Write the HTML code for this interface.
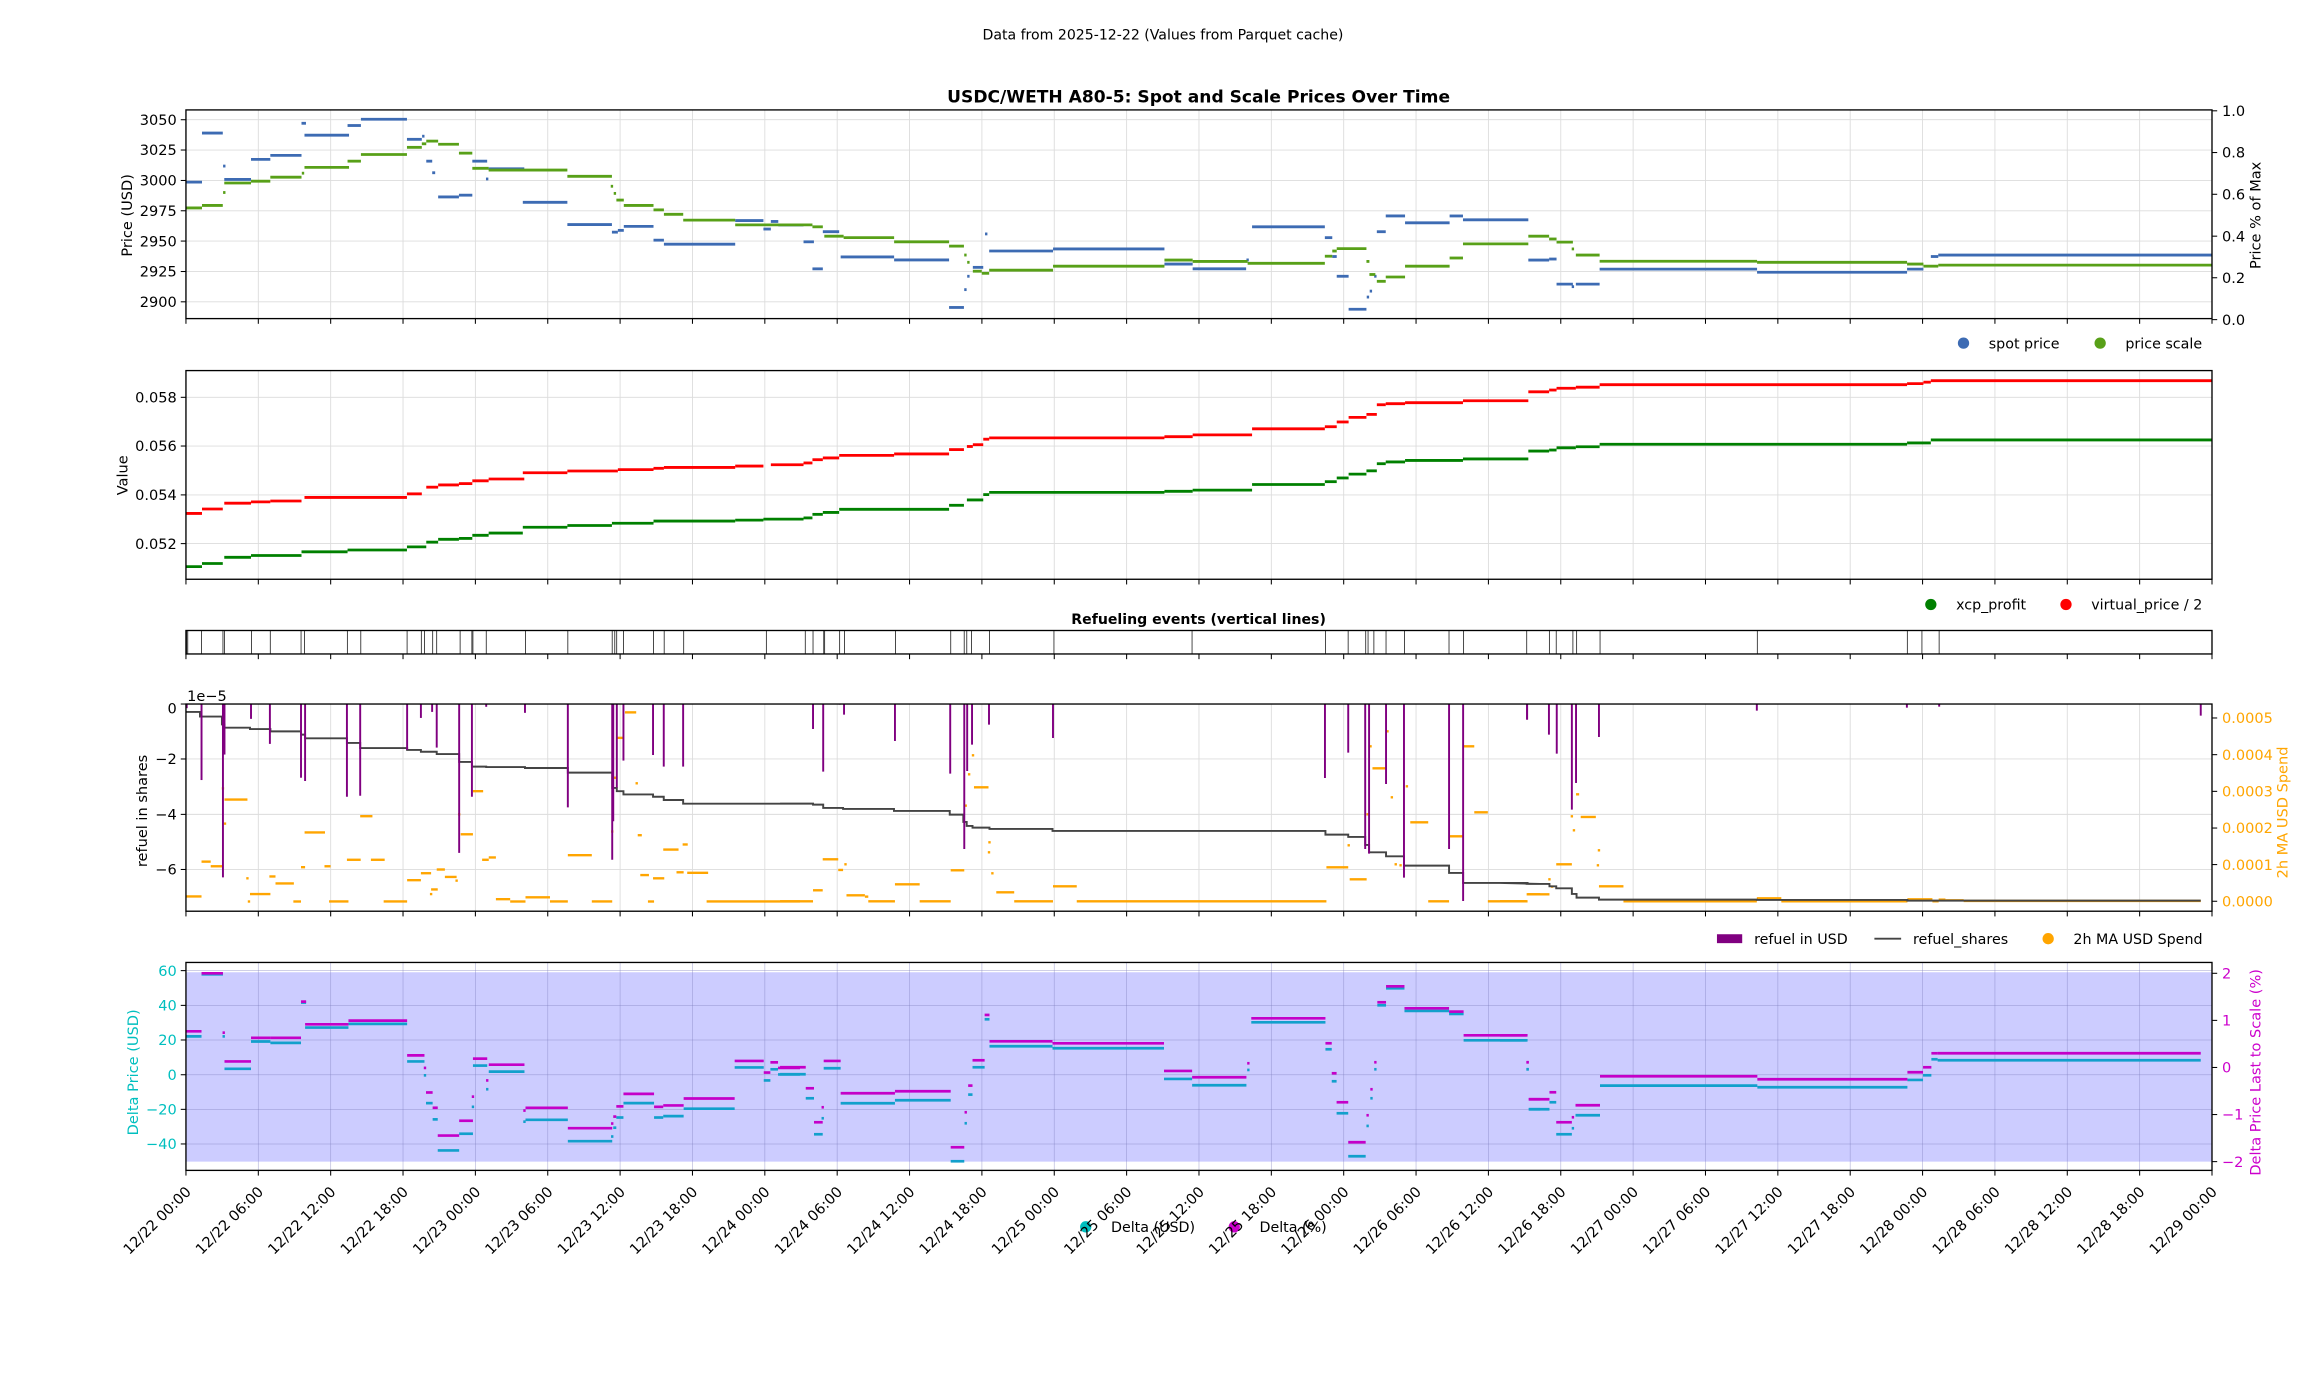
<!DOCTYPE html>
<html><head><meta charset="utf-8"><style>
html,body{margin:0;padding:0;background:#fff;}
svg{display:block;font-family:"DejaVu Sans","Liberation Sans",sans-serif;}
</style></head><body>
<svg id="s" width="2317" height="1377" viewBox="0 0 1560 927.1" xmlns="http://www.w3.org/2000/svg">
<rect x="0" y="0" width="1560" height="927.1" fill="#fff"/>
<rect x="125.2" y="654.6" width="1364.1" height="127.5" fill="#ccccff"/>
<g id="grid"></g>
<g id="data"></g>
<g id="frames" fill="none" stroke="#000" stroke-width="0.9">
<rect x="125.2" y="74" width="1364.1" height="140.5"/>
<rect x="125.2" y="249.5" width="1364.1" height="140.5"/>
<rect x="125.2" y="424.5" width="1364.1" height="15.8"/>
<rect x="125.2" y="474" width="1364.1" height="139.5"/>
<rect x="125.2" y="648" width="1364.1" height="140"/>
</g>
<g id="ticks" stroke="#000" stroke-width="0.7"></g>
<g font-size="10" fill="#000">
<text x="783" y="26.5" text-anchor="middle" font-size="9.5">Data from 2025-12-22 (Values from Parquet cache)</text>
<text x="807" y="69" text-anchor="middle" font-size="11.5" font-weight="bold">USDC/WETH A80-5: Spot and Scale Prices Over Time</text>
<text x="807" y="420" text-anchor="middle" font-size="9.5" font-weight="bold">Refueling events (vertical lines)</text>
<g text-anchor="end" font-size="9.8">
<text x="119" y="84">3050</text><text x="119" y="104.5">3025</text><text x="119" y="125">3000</text><text x="119" y="145.4">2975</text><text x="119" y="165.8">2950</text><text x="119" y="186.3">2925</text><text x="119" y="206.7">2900</text>
<text x="119" y="271">0.058</text><text x="119" y="303.8">0.056</text><text x="119" y="336.7">0.054</text><text x="119" y="369.5">0.052</text>
<text x="119" y="480.5">0</text><text x="119" y="514.5">−2</text><text x="119" y="551.8">−4</text><text x="119" y="588.9">−6</text>
<g fill="#00bfbf"><text x="119" y="657">60</text><text x="119" y="680.4">40</text><text x="119" y="703.7">20</text><text x="119" y="727.1">0</text><text x="119" y="750.4">−20</text><text x="119" y="773.7">−40</text></g>
</g>
<text x="126" y="472" font-size="9.8">1e−5</text>
<g font-size="9.8">
<text x="1496" y="78.1">1.0</text><text x="1496" y="106.2">0.8</text><text x="1496" y="134.3">0.6</text><text x="1496" y="162.5">0.4</text><text x="1496" y="190.5">0.2</text><text x="1496" y="218.7">0.0</text>
<g fill="#ffa500"><text x="1496" y="486.9">0.0005</text><text x="1496" y="511.6">0.0004</text><text x="1496" y="536.3">0.0003</text><text x="1496" y="561">0.0002</text><text x="1496" y="585.6">0.0001</text><text x="1496" y="610.3">0.0000</text></g>
<g fill="#cc00cc"><text x="1496" y="658.8">2</text><text x="1496" y="690.5">1</text><text x="1496" y="722.2">0</text><text x="1496" y="753.9">−1</text><text x="1496" y="785.6">−2</text></g>
</g>
<g font-size="9.8" text-anchor="middle">
<text transform="translate(89,145) rotate(-90)">Price (USD)</text>
<text transform="translate(86,320) rotate(-90)">Value</text>
<text transform="translate(99,546) rotate(-90)">refuel in shares</text>
<text transform="translate(93,722) rotate(-90)" fill="#00bfbf">Delta Price (USD)</text>
<text transform="translate(1522,145) rotate(-90)">Price % of Max</text>
<text transform="translate(1540,547) rotate(-90)" fill="#ffa500">2h MA USD Spend</text>
<text transform="translate(1522,722) rotate(-90)" fill="#cc00cc">Delta Price Last to Scale (%)</text>
</g>
<g font-size="9.6">
<circle cx="1322" cy="231" r="3.8" fill="#3d6bb3"/><text x="1339" y="234.5">spot price</text>
<circle cx="1414" cy="231" r="3.8" fill="#58a018"/><text x="1431" y="234.5">price scale</text>
<circle cx="1300" cy="407" r="3.8" fill="#008000"/><text x="1317" y="410.5">xcp_profit</text>
<circle cx="1391" cy="407" r="3.8" fill="#ff0000"/><text x="1408" y="410.5">virtual_price / 2</text>
<rect x="1156" y="629" width="17" height="6" fill="#800080"/><text x="1181" y="635.5">refuel in USD</text>
<line x1="1262" y1="632" x2="1280" y2="632" stroke="#444" stroke-width="1.3"/><text x="1288" y="635.5">refuel_shares</text>
<circle cx="1379" cy="632" r="3.8" fill="#ffa500"/><text x="1396" y="635.5">2h MA USD Spend</text>
<circle cx="731" cy="826" r="3.8" fill="#00bfbf"/><text x="748" y="829.5">Delta (USD)</text>
<circle cx="831" cy="826" r="3.8" fill="#cc00cc"/><text x="848" y="829.5">Delta (%)</text>
</g>
<g font-size="9.8" text-anchor="end">
<text transform="translate(129.2,803) rotate(-45)">12/22 00:00</text>
<text transform="translate(177.9,803) rotate(-45)">12/22 06:00</text>
<text transform="translate(226.6,803) rotate(-45)">12/22 12:00</text>
<text transform="translate(275.4,803) rotate(-45)">12/22 18:00</text>
<text transform="translate(324.1,803) rotate(-45)">12/23 00:00</text>
<text transform="translate(372.8,803) rotate(-45)">12/23 06:00</text>
<text transform="translate(421.5,803) rotate(-45)">12/23 12:00</text>
<text transform="translate(470.2,803) rotate(-45)">12/23 18:00</text>
<text transform="translate(518.9,803) rotate(-45)">12/24 00:00</text>
<text transform="translate(567.7,803) rotate(-45)">12/24 06:00</text>
<text transform="translate(616.4,803) rotate(-45)">12/24 12:00</text>
<text transform="translate(665.1,803) rotate(-45)">12/24 18:00</text>
<text transform="translate(713.8,803) rotate(-45)">12/25 00:00</text>
<text transform="translate(762.5,803) rotate(-45)">12/25 06:00</text>
<text transform="translate(811.3,803) rotate(-45)">12/25 12:00</text>
<text transform="translate(860,803) rotate(-45)">12/25 18:00</text>
<text transform="translate(908.7,803) rotate(-45)">12/26 00:00</text>
<text transform="translate(957.4,803) rotate(-45)">12/26 06:00</text>
<text transform="translate(1006.1,803) rotate(-45)">12/26 12:00</text>
<text transform="translate(1054.8,803) rotate(-45)">12/26 18:00</text>
<text transform="translate(1103.6,803) rotate(-45)">12/27 00:00</text>
<text transform="translate(1152.3,803) rotate(-45)">12/27 06:00</text>
<text transform="translate(1201,803) rotate(-45)">12/27 12:00</text>
<text transform="translate(1249.7,803) rotate(-45)">12/27 18:00</text>
<text transform="translate(1298.4,803) rotate(-45)">12/28 00:00</text>
<text transform="translate(1347.2,803) rotate(-45)">12/28 06:00</text>
<text transform="translate(1395.9,803) rotate(-45)">12/28 12:00</text>
<text transform="translate(1444.6,803) rotate(-45)">12/28 18:00</text>
<text transform="translate(1493.3,803) rotate(-45)">12/29 00:00</text>
</g>
</g>
</svg>
<script>
(function(){
var NS="http://www.w3.org/2000/svg";
var grid=document.getElementById("grid"),data=document.getElementById("data"),ticks=document.getElementById("ticks");
function L(g,x1,y1,x2,y2,c,w,op){var e=document.createElementNS(NS,"line");e.setAttribute("x1",x1);e.setAttribute("y1",y1);e.setAttribute("x2",x2);e.setAttribute("y2",y2);if(c)e.setAttribute("stroke",c);if(w)e.setAttribute("stroke-width",w);if(op)e.setAttribute("stroke-opacity",op);g.appendChild(e);}
var X0=125.2,X1=1489.3;
var panels=[[74,214.5,1],[249.5,390,1],[424.5,440.3,0],[474,613.5,1],[648,788,2]];
for(var i=0;i<=28;i++){var x=X0+i*48.718;
 panels.forEach(function(p){ if(p[2]==1&&i>0&&i<28)L(grid,x,p[0],x,p[1],"#dcdcdc",0.6); if(p[2]==2&&i>0&&i<28)L(grid,x,p[0],x,p[1],"#8080c0",0.5,0.5); L(ticks,x,p[1],x,p[1]+3.5);});}
[80.6,101,121.5,141.9,162.3,182.8,203.2].forEach(function(y){L(grid,X0,y,X1,y,"#dcdcdc",0.6);L(ticks,X0-3.5,y,X0,y);});
[267.5,300.3,333.2,366].forEach(function(y){L(grid,X0,y,X1,y,"#dcdcdc",0.6);L(ticks,X0-3.5,y,X0,y);});
[474,511,548.3,585.4].forEach(function(y){L(grid,X0,y,X1,y,"#dcdcdc",0.6);L(ticks,X0-3.5,y,X0,y);});
[653.5,676.9,700.2,723.6,746.9,770.2].forEach(function(y){L(grid,X0,y,X1,y,"#8080c0",0.5,0.5);L(ticks,X0-3.5,y,X0,y);});
[74.6,102.7,130.8,159,187,215.2].forEach(function(y){L(ticks,X1,y,X1+3.5,y);});
[483.4,508.1,532.8,557.5,582.1,606.8].forEach(function(y){L(ticks,X1,y,X1+3.5,y);});
[655.3,687,718.7,750.4,782.1].forEach(function(y){L(ticks,X1,y,X1+3.5,y);});
function segs(list,fx,fy,c,w){list.forEach(function(s){var a=fx(s[0]),b=fx(s[1]);if(b-a<1.4){var m=(a+b)/2;a=m-0.8;b=m+0.8;}var y=fy(s[2]);L(data,a,y,b,y,c,w);});}
var I=function(v){return v;};
var Z1x=function(z){return z*0.3435;};
var Z2y=function(z){return 437.8+z*0.3121;};
var Z5x=function(z){return 525.2+z*0.3264;};
var Z6x=function(z){return 1009.9+z*0.3508;};
var Z5y=function(z){return 464.55+z*0.2244;};
// Panel 1
segs([[125,136,122.6],[136,150,89.6],[151,151,111.8],[151,169,120.8],[169,182,107.3],[182,203,104.6],[203,206,83],[205,235,91],[234,243,84.5],[243,274,80.3],[274,284,93.8],[285,285,91.7],[287,291,108.5],[291,293,116.3],[295,309,132.6],[309,318,131.4],[318,328,108.5],[328,328,120.5],[329,353,113.6],[352,382,136.2],[382,412,151.2],[412,416,156.3],[416,420,155.1],[420,440,152.4],[440,447,161.7],[447,495,164.4],[495,514,148.5],[514,519,154.2],[519,524,149.1],[524,541,151.5],[541,548,162.8],[547,554,181],[554,565,156],[566,602,173],[602,639,175],[639,649,207],[650,650,195],[652,652,186],[655,662,180],[664,664,157.5],[666,709,169],[709,784,167.6],[784,803,177.8],[803,839,181],[840,840,175],[843,892,152.7],[892,897,160],[897,900,172.7],[900,908,186],[908,920,208.2],[921,921,200],[923,923,196],[926,926,186],[927,933,156],[933,946,145.4],[946,976,150],[976,985,145.4],[985,1029,148],[1029,1043,175.1],[1043,1048,174.4],[1048,1059,191.3],[1059,1059,193],[1061,1077,191.3],[1077,1183,181.2],[1183,1284,183.3],[1284,1295,181.2],[1300,1305,172.7],[1305,1489,171.7]],I,I,"#3d6bb3",1.9);
segs([[125,136,140],[136,150,138.3],[151,151,129.6],[151,169,123.2],[169,182,122],[182,203,119.3],[204,204,116.6],[205,235,112.7],[234,243,108.5],[243,274,104],[274,284,99.2],[284,287,96.8],[287,295,95],[295,309,97.1],[309,318,103.1],[318,329,113.3],[329,382,114.5],[382,412,118.7],[412,412,125.4],[414,414,130.2],[415,420,134.7],[420,440,138.3],[440,447,141.3],[447,460,144.3],[460,495,148.2],[495,547,151.4],[547,554,152.7],[555,568,159],[568,602,160],[602,639,162.8],[639,649,165.7],[650,650,171.7],[652,652,176.6],[655,661,182.6],[661,666,184],[666,709,181.9],[709,784,179.2],[784,803,175.1],[803,840,176],[840,892,177.3],[892,897,172.5],[897,900,169],[900,920,167.4],[920,922,176],[922,926,184.8],[927,933,189.4],[933,946,186.5],[946,976,179.2],[976,985,173.7],[985,1029,164.2],[1029,1043,159],[1043,1048,160.9],[1048,1059,163],[1059,1059,167.6],[1061,1077,171.7],[1077,1183,175.9],[1183,1284,176.6],[1284,1295,177.8],[1295,1305,179.2],[1305,1489,178.5]],I,I,"#58a018",1.9);
// Panel 2
segs([[125,136,345.7],[136,150,342.7],[151,169,338.8],[169,182,337.9],[182,203,337.3],[205,274,334.9],[274,284,332.5],[287,295,328],[295,309,326.5],[309,318,325.6],[318,329,323.7],[329,353,322.5],[352,382,318.3],[382,416,317.1],[416,440,316.2],[440,447,315.3],[447,495,314.7],[495,514,313.8],[519,541,312.9],[541,547,311.7],[547,554,309.5],[554,565,308.3],[565,602,306.6],[602,639,305.6],[639,649,302.7],[651,655,300.6],[655,662,299.4],[662,666,295.7],[666,784,294.8],[784,803,294],[803,843,292.8],[843,892,288.7],[892,900,287.3],[900,908,284.1],[908,920,281],[920,927,279],[927,933,272.5],[933,946,271.8],[946,985,271.1],[985,1029,269.8],[1029,1043,263.8],[1043,1048,262.6],[1048,1061,261.4],[1061,1077,260.7],[1077,1284,259],[1284,1295,258.3],[1295,1300,257.3],[1300,1489,256.3]],I,I,"#ff0000",1.9);
segs([[125,136,381.5],[136,150,379.4],[151,169,375.2],[169,203,374],[203,234,371.5],[234,274,370.3],[274,287,368.2],[287,295,365],[295,309,363.1],[309,318,362.5],[318,329,360.4],[329,352,358.9],[352,382,355],[382,412,353.8],[412,440,352.3],[440,495,350.8],[495,514,350.2],[514,541,349.5],[541,547,348.7],[547,554,346.3],[554,565,345],[565,639,342.9],[639,649,340.2],[651,662,336.6],[662,666,333],[666,784,331.5],[784,803,330.8],[803,843,330],[843,892,326.2],[892,900,324.3],[900,908,321.8],[908,920,319.2],[920,927,317],[927,933,312.2],[933,946,311],[946,985,310],[985,1029,309],[1029,1043,303.7],[1043,1048,303],[1048,1061,301.5],[1061,1077,300.8],[1077,1284,299.1],[1284,1300,298.2],[1300,1489,296.2]],I,I,"#008000",1.9);
// Panel 3 events
[125.7,126.4,135.7,150.1,151.1,169.3,182,202.7,205,233.9,242.9,274.1,283.7,285.8,291.3,294,309.8,317.7,318.4,327.4,353.8,382.3,412.2,413.9,415.2,419.8,440,447.2,460.3,516,542.2,547.4,554.6,555.2,565.3,568.6,602.9,640.1,649.2,650.9,654.1,666.2,709.6,802.6,892.4,907.7,919.5,921.1,925,933.2,945.6,975.6,985.4,1027.9,1043.2,1047.8,1059,1061.5,1077.3,1183.2,1284.2,1294,1305.6].forEach(function(x){L(data,x,424.5,x,440.3,"#333",0.6);});
// Panel 4 orange
segs([[364,395,531],[395,413,456],[413,437,466],[437,437,298],[440,485,322],[441,441,374],[485,485,492],[488,488,542],[490,530,526],[528,540,488],[540,576,503],[575,590,542],[590,598,468],[597,637,393],[636,648,466],[645,683,542],[680,707,452],[706,730,358],[727,754,452],[752,798,542],[798,825,496],[825,845,481],[845,858,516],[845,845,526],[856,872,473],[872,895,489],[895,895,497],[900,900,354],[903,927,397],[927,947,304],[945,958,452],[958,972,447],[972,1000,537],[1000,1030,542],[1030,1078,533],[1078,1113,542],[1113,1160,442],[1160,1200,542],[1200,1200,391],[1205,1205,275],[1209,1222,189],[1225,1247,134],[1248,1248,287],[1250,1258,399],[1255,1272,485],[1270,1282,542],[1280,1302,492],[1300,1330,430],[1326,1340,479],[1338,1348,419],[1347,1388,480],[1385,1568,542]],Z1x,Z2y,"#ffa500",1.6);
segs([[0,68,634],[68,88,601],[88,120,508],[120,130,540],[135,135,523],[137,175,616],[175,182,620],[182,237,634],[237,288,583],[288,352,634],[352,380,541],[383,383,347],[390,390,253],[398,398,196],[400,430,292],[432,432,457],[431,431,487],[438,438,550],[446,483,607],[483,563,634],[563,612,589],[612,1127,634],[1127,1172,532],[1173,1173,466],[1175,1210,568],[1212,1212,373],[1218,1218,169],[1222,1250,235],[1253,1253,124],[1262,1262,322],[1270,1270,523],[1280,1280,526],[1293,1293,289],[1300,1337,397],[1337,1380,634],[1380,1410,439],[1410,1432,169],[1432,1460,367],[1460,1540,634],[1540,1568,613]],Z5x,Z5y,"#ffa500",1.6);
segs([[0,53,634],[53,95,613],[95,95,568],[100,100,590],[108,138,523],[138,138,379],[142,142,421],[146,152,313],[155,184,381],[188,188,526],[190,190,481],[190,237,589],[237,493,634],[493,540,625],[540,782,634],[782,830,628],[830,842,634],[842,855,629],[855,890,631],[890,1345,633]],Z6x,Z5y,"#ffa500",1.6);
// Panel 4 black steps
function steps(list,fx,fy){var pts=[];list.forEach(function(s){pts.push(fx(s[0])+","+fy(s[2]));pts.push(fx(s[1])+","+fy(s[2]));});return pts;}
var p=[].concat(
 steps([[364,392,133],[392,435,143],[435,440,160],[440,490,167],[490,530,170],[530,590,175],[590,598,182],[598,680,190],[680,706,200],[706,798,211],[798,825,215],[825,856,219],[856,900,224],[900,925,241],[925,953,251],[953,1029,252],[1029,1113,254],[1113,1200,264],[1200,1209,297],[1209,1222,304],[1222,1280,311],[1280,1301,316],[1301,1339,323],[1339,1568,331]],Z1x,Z2y),
 steps([[0,68,341],[68,89,344],[89,130,354],[130,235,357],[235,350,363],[350,378,374],[378,385,396],[385,397,408],[397,432,413],[432,562,417],[562,1125,423],[1125,1172,434],[1172,1207,441],[1207,1215,465],[1215,1250,487],[1250,1287,499],[1287,1380,527],[1380,1409,549],[1409,1540,579],[1540,1568,582]],Z5x,Z5y),
 steps([[0,53,579],[53,95,582],[95,108,589],[108,138,595],[138,147,612],[147,190,623],[190,493,629],[493,782,630],[782,1345,632]],Z6x,Z5y));
var pl=document.createElementNS(NS,"polyline");pl.setAttribute("points",p.join(" "));pl.setAttribute("fill","none");pl.setAttribute("stroke","#444");pl.setAttribute("stroke-width","1.3");data.appendChild(pl);
// purple bars
function bars(list,fx,fy){list.forEach(function(b){var x=fx(b[0]);L(data,x,474,x,fy(b[1]),"#800080",1.3);});}
bars([[366,125],[395,280],[437,490],[440,225],[492,148],[529,202],[590,275],[598,282],[680,316],[706,314],[798,215],[825,146],[847,133],[856,210],[900,437],[925,316],[953,122],[1029,135],[1113,339],[1200,452],[1202,369],[1209,296],[1222,238],[1280,226],[1301,251],[1339,251]],Z1x,Z2y);
bars([[68,117],[89,245],[123,44],[132,74],[237,153],[351,251],[380,477],[386,243],[396,164],[431,104],[563,144],[1124,264],[1172,188],[1207,477],[1215,491],[1250,282],[1287,563],[1380,477],[1409,633],[1541,89]],Z5x,Z5y);
bars([[52,89],[94,134],[109,191],[138,359],[146,279],[190,141],[493,62],[781,53],[843,50],[1345,77]],Z6x,Z5y);
// Panel 5
var A=[[364,395,822,833],[395,437,697,699],[437,440,825,833],[440,492,887,903],[492,530,836,844],[530,590,836,847],[590,600,758,760],[598,683,807,814],[683,798,799,806],[798,832,874,887],[833,833,901,917],[835,848,954,977],[848,858,987,1012],[858,900,1047,1079],[900,927,1015,1043],[927,927,963,985],[927,955,881,896],[955,955,928,947],[958,1028,894,909],[1028,1028,993,1017],[1030,1113,987,1013],[1113,1200,1031,1059],[1200,1200,1021,1049],[1202,1208,1006,1030],[1208,1222,984,1008],[1222,1282,957,977],[1282,1300,985,1008],[1300,1340,982,1005],[1340,1440,967,989],[1440,1497,886,900],[1497,1510,911,928],[1510,1525,889,904],[1525,1568,901,915]];
var B=[[0,53,1132,1153],[53,70,1195,1225],[70,88,1297,1333],[88,88,1252,1285],[90,125,1113,1135],[125,237,1210,1240],[237,352,1204,1231],[352,380,1372,1414],[383,383,1267,1300],[388,397,1187,1214],[397,422,1111,1132],[422,432,975,988],[432,562,1054,1069],[562,792,1060,1075],[792,850,1143,1167],[850,962,1162,1186],[966,966,1120,1140],[972,1125,985,997],[1125,1138,1060,1078],[1138,1148,1150,1174],[1148,1172,1237,1270],[1172,1208,1357,1399],[1212,1212,1276,1308],[1220,1220,1198,1225],[1228,1228,1117,1138],[1232,1250,937,946],[1250,1288,889,895],[1288,1380,955,963],[1380,1410,965,972],[1410,1540,1036,1051],[1542,1542,1117,1138],[1545,1568,1228,1258]];
var C=[[0,53,1036,1051],[53,53,1117,1138],[55,95,1228,1258],[95,108,1207,1237],[108,138,1297,1333],[140,140,1282,1315],[145,192,1246,1276],[192,494,1159,1187],[494,782,1168,1192],[782,812,1147,1170],[812,828,1132,1156],[828,840,1090,1108],[840,1345,1090,1111]];
function split(l,k){return l.map(function(s){return [s[0],s[1],s[k]];});}
segs(split(A,3),Z1x,Z2y,"#12a0cc",1.8);segs(split(B,3),Z5x,Z5y,"#12a0cc",1.8);segs(split(C,3),Z6x,Z5y,"#12a0cc",1.8);
segs(split(A,2),Z1x,Z2y,"#c400c8",1.8);segs(split(B,2),Z5x,Z5y,"#c400c8",1.8);segs(split(C,2),Z6x,Z5y,"#c400c8",1.8);
})();
</script>
</body></html>
